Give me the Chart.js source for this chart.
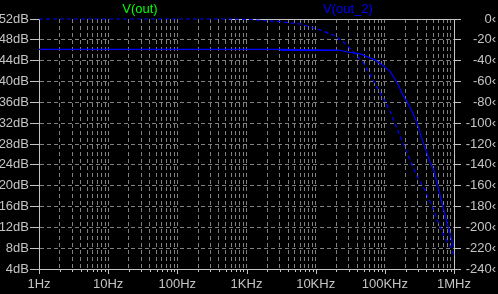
<!DOCTYPE html>
<html><head><meta charset="utf-8">
<script src="https://cdn.jsdelivr.net/npm/chart.js@4"></script>
<style>html,body{margin:0;padding:0;background:#000;overflow:hidden}</style>
</head><body>
<canvas id="c" width="498" height="294"></canvas>
<script>
// ---- data ----
const traceNames = ['V(out)', 'V(out_2)'];
const xDecades = [1, 10, 100, 1000, 10000, 100000, 1000000];
const xTickLabels = ['1Hz', '10Hz', '100Hz', '1KHz', '10KHz', '100KHz', '1MHz'];
const dbTicks = [4, 8, 12, 16, 20, 24, 28, 32, 36, 40, 44, 48, 52];
const phaseTicks = [0, -20, -40, -60, -80, -100, -120, -140, -160, -180, -200, -220, -240];

// magnitude (dB, left axis)
const magFreq = [1, 3100, 21000, 31600, 44000, 73000, 91000, 120000, 151000, 188000, 235000, 294000, 348000, 456000, 511000, 636000, 756000, 895000, 1000000];
const magDb   = [46.15, 46.15, 46.05, 45.6, 45.3, 44.1, 43.2, 41.9, 39.7, 37.1, 34.9, 32.0, 28.8, 24.3, 23.0, 17.9, 14.0, 10.2, 8.2];
// second, overlapping magnitude segment
const mag2Freq = [3100, 21000];
const mag2Db   = [45.95, 45.95];

// phase (degrees, right axis)
const phaseFreq = [1, 550, 1100, 3100, 6000, 11700, 18000, 25000, 35000, 49000, 68000, 95000, 126000, 166000, 210000, 294000, 360000, 505000, 675000, 895000, 975000, 1000000];
const phaseDeg  = [0, 0, -0.5, -2.6, -4.8, -10.6, -15.4, -21.8, -31.4, -42.2, -58.6, -75.8, -92.2, -112.3, -128.6, -151.4, -161, -183, -205, -218.6, -224.6, -226];

// ---- build ----
const minorTicks = [];
for (let d = 0; d < xDecades.length - 1; d++) {
  for (let m = 1; m <= 9; m++) minorTicks.push(xDecades[d] * m);
}
minorTicks.push(xDecades[xDecades.length - 1]);

const FONT = {family: "'Liberation Sans', Arial, sans-serif", size: 13};
const AXIS = '#c4c4c4';
const GRID = '#808080';
const BLUE = '#0000ff';

const pts = (xs, ys) => xs.map((x, i) => ({x: x, y: ys[i]}));

const decorations = {
  id: 'decorations',
  beforeDatasetsDraw(chart) {
    const c = chart.ctx, a = chart.chartArea, xs = chart.scales.x;
    c.save();
    c.strokeStyle = AXIS; c.lineWidth = 1;
    // top frame segment (the left part is covered by the 0° phase trace)
    const x0 = Math.round(xs.getPixelForValue(550));
    c.beginPath(); c.moveTo(x0, Math.round(a.top) + 0.5); c.lineTo(Math.round(a.right), Math.round(a.top) + 0.5); c.stroke();
    c.restore();
  },
  afterDraw(chart) {
    const c = chart.ctx, a = chart.chartArea, xs = chart.scales.x;
    c.save();
    c.strokeStyle = AXIS; c.lineWidth = 1;
    const yb = Math.round(a.bottom);
    minorTicks.forEach(v => {
      const x = Math.round(xs.getPixelForValue(v)) + 0.5;
      const major = xDecades.includes(v);
      c.beginPath(); c.moveTo(x, yb); c.lineTo(x, yb + (major ? 5 : 3)); c.stroke();
    });
    // trace names
    c.font = "13px 'Liberation Sans', Arial, sans-serif";
    c.textAlign = 'center'; c.textBaseline = 'middle';
    c.fillStyle = '#00ff00'; c.fillText(traceNames[0], 140, 9);
    c.fillStyle = BLUE; c.fillText(traceNames[1], 348, 9);
    c.restore();
  }
};

new Chart(document.getElementById('c'), {
  type: 'line',
  data: {
    datasets: [
      {label: 'mag', data: pts(magFreq, magDb), yAxisID: 'y', borderColor: BLUE, borderWidth: 1.2, pointRadius: 0, tension: 0},
      {label: 'mag2', data: pts(mag2Freq, mag2Db), yAxisID: 'y', borderColor: BLUE, borderWidth: 1.2, pointRadius: 0, tension: 0},
      {label: 'phase', data: pts(phaseFreq, phaseDeg), yAxisID: 'y2', borderColor: BLUE, borderWidth: 1.2, borderDash: [4, 3], pointRadius: 0, tension: 0, clip: false}
    ]
  },
  options: {
    responsive: false, animation: false, devicePixelRatio: 1,
    layout: {padding: {top: 19, left: 0, right: 2, bottom: 0}},
    plugins: {legend: {display: false}, tooltip: {enabled: false}},
    scales: {
      x: {
        type: 'logarithmic', min: 1, max: 1000000,
        afterBuildTicks: s => { s.ticks = minorTicks.map(v => ({value: v, major: xDecades.includes(v)})); },
        afterFit: s => { s.height = 25; },
        ticks: {
          autoSkip: false, maxRotation: 0, minRotation: 0, color: AXIS, font: FONT, padding: 8,
          callback: (v) => { const i = xDecades.indexOf(v); return i >= 0 ? xTickLabels[i] : ''; }
        },
        grid: {
          drawTicks: false,
          color: ctx => (ctx.tick && (ctx.tick.value === 1 || ctx.tick.value === 1000000)) ? 'rgba(0,0,0,0)' : GRID
        },
        border: {color: AXIS, dash: [4, 3]}
      },
      y: {
        position: 'left', min: 4, max: 52,
        afterBuildTicks: s => { s.ticks = dbTicks.map(v => ({value: v})); },
        afterFit: s => { s.width = 39; },
        ticks: {color: AXIS, font: FONT, padding: 1, callback: v => v + 'dB'},
        grid: {
          tickLength: 9, tickColor: AXIS,
          color: ctx => (ctx.tick && (ctx.tick.value === 52 || ctx.tick.value === 4)) ? 'rgba(0,0,0,0)' : GRID
        },
        border: {color: AXIS, dash: [4, 3]}
      },
      y2: {
        position: 'right', min: -240, max: 0,
        afterBuildTicks: s => { s.ticks = phaseTicks.map(v => ({value: v})); },
        afterFit: s => { s.width = 42; },
        ticks: {color: AXIS, font: FONT, crossAlign: 'far', callback: v => v + '\u2039'},
        grid: {drawOnChartArea: false, tickLength: 7, tickColor: AXIS},
        border: {color: AXIS}
      }
    }
  },
  plugins: [decorations]
});
</script>
</body></html>
